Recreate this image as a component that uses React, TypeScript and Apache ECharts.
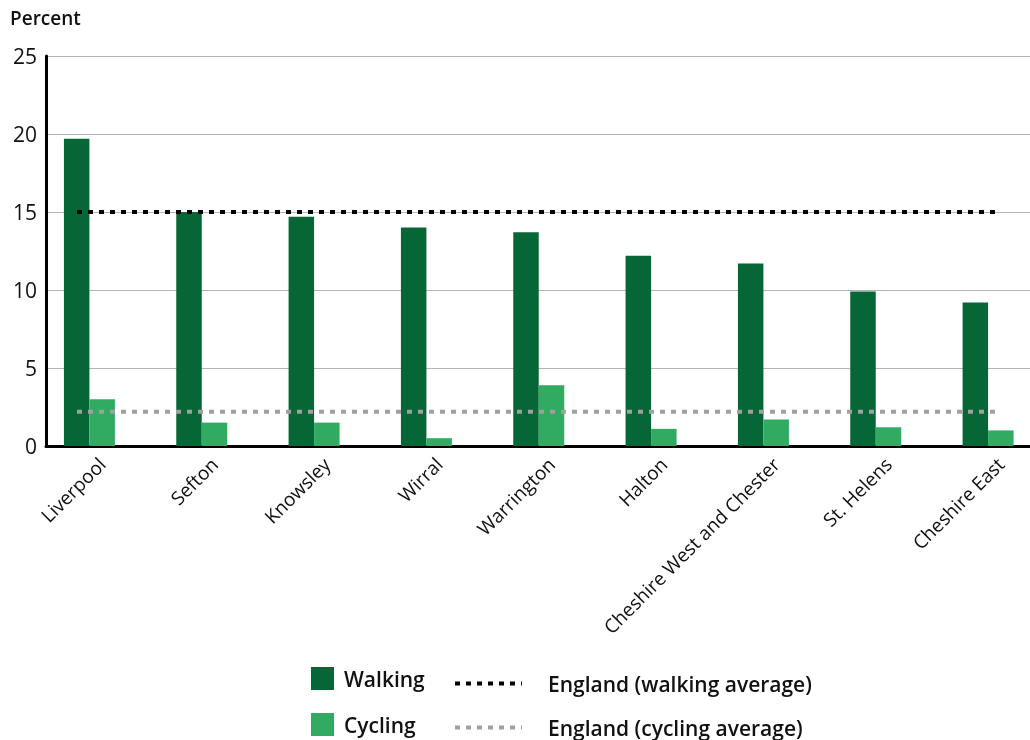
import React, { useEffect, useRef } from "react";
import * as echarts from "echarts";

const categories = [
  "Liverpool",
  "Sefton",
  "Knowsley",
  "Wirral",
  "Warrington",
  "Halton",
  "Cheshire West and Chester",
  "St. Helens",
  "Cheshire East",
];
const walking = [19.7, 15.0, 14.7, 14.0, 13.7, 12.2, 11.7, 9.9, 9.2];
const cycling = [3.0, 1.5, 1.5, 0.5, 3.9, 1.1, 1.7, 1.2, 1.0];
const englandWalking = 15.0;
const englandCycling = 2.2;
const yTicks = [0, 5, 10, 15, 20, 25];

const FONT = "'Open Sans', 'Noto Sans', sans-serif";

export default function App() {
  const ref = useRef<HTMLDivElement>(null);
  useEffect(() => {
    document.body.style.margin = "0";
    document.body.style.overflow = "hidden";
    const chart = echarts.init(ref.current!, null, { renderer: "svg" });
    const walkAvg = categories.map(() => englandWalking);
    const cycAvg = categories.map(() => englandCycling);
    chart.setOption({
      animation: false,
      textStyle: { fontFamily: FONT },
      grid: [
        { left: 46, right: 3, top: 56, height: 390, containLabel: false },
        { left: 77, right: 65, top: 56, height: 390, containLabel: false },
      ],
      xAxis: [
        {
          type: "category",
          gridIndex: 0,
          data: categories,
          axisLine: { lineStyle: { color: "#000", width: 3 } },
          axisTick: { show: false },
          axisLabel: {
            rotate: 45,
            interval: 0,
            margin: 15,
            fontSize: 19,
            color: "#111",
            fontFamily: FONT,
          },
        },
        {
          type: "category",
          gridIndex: 1,
          data: categories,
          boundaryGap: false,
          show: false,
        },
      ],
      yAxis: [
        {
          type: "value",
          gridIndex: 0,
          min: yTicks[0],
          max: yTicks[yTicks.length - 1],
          interval: 5,
          axisLine: { show: true, lineStyle: { color: "#000", width: 3 } },
          axisTick: { show: false },
          splitLine: { lineStyle: { color: "#b3b3b3", width: 1 } },
          axisLabel: { fontSize: 21, color: "#111", margin: 9, fontFamily: FONT },
        },
        {
          type: "value",
          gridIndex: 1,
          min: yTicks[0],
          max: yTicks[yTicks.length - 1],
          show: false,
        },
      ],
      legend: [
        {
          data: ["Walking", "Cycling"],
          orient: "vertical",
          left: 311,
          top: 667,
          padding: 0,
          itemWidth: 23,
          itemHeight: 23,
          itemGap: 23,
          icon: "rect",
          textStyle: { fontSize: 21, color: "#111", fontWeight: 600, padding: [0, 0, 0, 5], fontFamily: FONT },
        },
        {
          data: ["England (walking average)", "England (cycling average)"],
          orient: "vertical",
          left: 453,
          top: 673,
          padding: 0,
          itemWidth: 67,
          itemHeight: 23,
          itemGap: 23,
          itemStyle: { opacity: 0 },
          lineStyle: { width: 4, type: [5, 6] },
          textStyle: { fontSize: 21, color: "#111", fontWeight: 600, padding: [0, 0, 0, 21], fontFamily: FONT },
        },
      ],
      graphic: [
        {
          type: "text",
          left: 10,
          top: 8,
          style: { text: "Percent", fontSize: 19, fontWeight: 600, fill: "#111", fontFamily: FONT },
        },
      ],
      series: [
        {
          name: "Walking",
          type: "bar",
          xAxisIndex: 0,
          yAxisIndex: 0,
          data: walking,
          barWidth: 25.5,
          barGap: "0%",
          itemStyle: { color: "#076635" },
        },
        {
          name: "Cycling",
          type: "bar",
          xAxisIndex: 0,
          yAxisIndex: 0,
          data: cycling,
          barWidth: 25.5,
          barGap: "0%",
          itemStyle: { color: "#31ab62" },
        },
        {
          name: "spacer",
          type: "bar",
          xAxisIndex: 0,
          yAxisIndex: 0,
          data: [],
          barWidth: 25.5,
          barGap: "0%",
        },
        {
          name: "England (walking average)",
          type: "line",
          xAxisIndex: 1,
          yAxisIndex: 1,
          data: walkAvg,
          symbol: "none",
          itemStyle: { color: "#000" },
          lineStyle: { color: "#000", width: 4, type: [5, 6] },
          z: 5,
        },
        {
          name: "England (cycling average)",
          type: "line",
          xAxisIndex: 1,
          yAxisIndex: 1,
          data: cycAvg,
          symbol: "none",
          itemStyle: { color: "#a0a0a0" },
          lineStyle: { color: "#a0a0a0", width: 4, type: [5, 6] },
          z: 5,
        },
      ],
    });
    return () => chart.dispose();
  }, []);
  return (
    <div style={{ position: "fixed", left: 0, top: 0, width: 1030, height: 740, overflow: "hidden" }}>
      <div ref={ref} style={{ width: 1060, height: 740 }} />
    </div>
  );
}
